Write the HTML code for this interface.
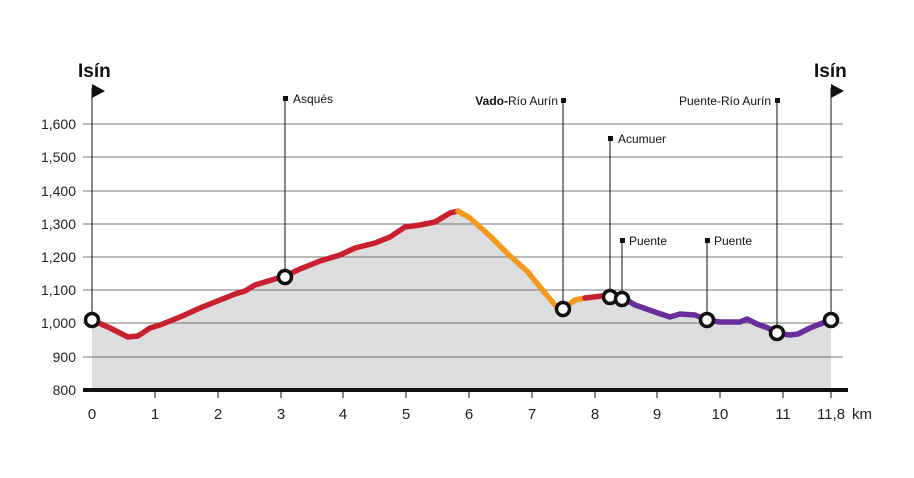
<!DOCTYPE html><html><head><meta charset="utf-8"><style>body{margin:0;background:#fff}svg{display:block;font-family:"Liberation Sans",sans-serif}</style></head><body>
<svg width="914" height="478" viewBox="0 0 914 478">
<polygon fill="#dcdddf" points="92,320 110,328 128,337 138,336 150,328 160,325 180,317 200,308 220,300 235,294 245,291 255,285 285,276 300,269 320,261 340,255 355,248 375,243 390,237 405,227 420,225 435,222 450,213 458,211 470,218 490,236 510,256 527,271 540,287 555,305 563,309 575,300 585,298 602,296 610,297 622,299 635,305 655,312 670,317 680,314 695,315 707,320 720,322 740,322 747,319 757,324 768,328 777,333 790,335 798,334 810,328 820,324 831,320 831,390 92,390"/>
<g stroke="#777" stroke-width="1"><line x1="83" x2="843" y1="124" y2="124"/><line x1="83" x2="843" y1="157" y2="157"/><line x1="83" x2="843" y1="191" y2="191"/><line x1="83" x2="843" y1="224" y2="224"/><line x1="83" x2="843" y1="257" y2="257"/><line x1="83" x2="843" y1="290" y2="290"/><line x1="83" x2="843" y1="323" y2="323"/><line x1="83" x2="843" y1="357" y2="357"/></g>
<g font-size="14" fill="#222" text-anchor="end"><text x="76" y="129">1,600</text><text x="76" y="162">1,500</text><text x="76" y="196">1,400</text><text x="76" y="229">1,300</text><text x="76" y="262">1,200</text><text x="76" y="295">1,100</text><text x="76" y="328">1,000</text><text x="76" y="362">900</text><text x="76" y="395">800</text></g>
<g stroke="#111" stroke-width="1"><line x1="92" x2="92" y1="88" y2="320"/><line x1="285" x2="285" y1="98" y2="277"/><line x1="563" x2="563" y1="100" y2="309"/><line x1="610" x2="610" y1="139" y2="297"/><line x1="622" x2="622" y1="240" y2="299"/><line x1="707" x2="707" y1="240" y2="320"/><line x1="777" x2="777" y1="100" y2="333"/><line x1="831" x2="831" y1="88" y2="320"/></g>
<polygon points="92,84 105,91 92,98" fill="#111"/><polygon points="831,84 844,91 831,98" fill="#111"/>
<g fill="#111"><rect x="283" y="96" width="5" height="5"/><rect x="561" y="98" width="5" height="5"/><rect x="608" y="136" width="5" height="5"/><rect x="620" y="238" width="5" height="5"/><rect x="705" y="238" width="5" height="5"/><rect x="775" y="98" width="5" height="5"/></g>
<g font-size="12" fill="#111"><text x="293" y="103">Asqués</text><text x="558" y="105" text-anchor="end"><tspan font-weight="bold">Vado-</tspan>Río Aurín</text><text x="618" y="143">Acumuer</text><text x="629" y="245">Puente</text><text x="714" y="245">Puente</text><text x="771" y="105" text-anchor="end">Puente-Río Aurín</text></g>
<g font-size="19" font-weight="bold" fill="#111"><text x="78" y="77">Isín</text><text x="814" y="77">Isín</text></g>
<g fill="none" stroke-width="5.5" stroke-linecap="round" stroke-linejoin="round">
<polyline stroke="#c8202e" points="92,320 110,328 128,337 138,336 150,328 160,325 180,317 200,308 220,300 235,294 245,291 255,285 285,276 300,269 320,261 340,255 355,248 375,243 390,237 405,227 420,225 435,222 450,213 458,211"/>
<polyline stroke="#f39a1e" points="458,211 470,218 490,236 510,256 527,271 540,287 555,305 563,309 575,300 585,298"/>
<polyline stroke="#c8202e" points="585,298 602,296 610,297 622,299 630,302"/>
<polyline stroke="#6a2e9c" points="630,302 635,305 655,312 670,317 680,314 695,315 707,320 720,322 740,322 747,319 757,324 768,328 777,333 790,335 798,334 810,328 820,324 831,320"/></g>
<g fill="#fff" stroke="#111" stroke-width="3.5"><circle cx="92" cy="320" r="6.5"/><circle cx="285" cy="277" r="6.5"/><circle cx="563" cy="309" r="6.5"/><circle cx="610" cy="297" r="6.5"/><circle cx="622" cy="299" r="6.5"/><circle cx="707" cy="320" r="6.5"/><circle cx="777" cy="333" r="6.5"/><circle cx="831" cy="320" r="6.5"/></g>
<line x1="83" x2="848" y1="390" y2="390" stroke="#111" stroke-width="4"/>
<g stroke="#111" stroke-width="1"><line x1="155" x2="155" y1="390" y2="398"/><line x1="218" x2="218" y1="390" y2="398"/><line x1="281" x2="281" y1="390" y2="398"/><line x1="343" x2="343" y1="390" y2="398"/><line x1="406" x2="406" y1="390" y2="398"/><line x1="469" x2="469" y1="390" y2="398"/><line x1="532" x2="532" y1="390" y2="398"/><line x1="595" x2="595" y1="390" y2="398"/><line x1="657" x2="657" y1="390" y2="398"/><line x1="720" x2="720" y1="390" y2="398"/><line x1="783" x2="783" y1="390" y2="398"/><line x1="831" x2="831" y1="390" y2="398"/></g>
<g font-size="15" fill="#222" text-anchor="middle"><text x="92" y="419">0</text><text x="155" y="419">1</text><text x="218" y="419">2</text><text x="281" y="419">3</text><text x="343" y="419">4</text><text x="406" y="419">5</text><text x="469" y="419">6</text><text x="532" y="419">7</text><text x="595" y="419">8</text><text x="657" y="419">9</text><text x="720" y="419">10</text><text x="783" y="419">11</text><text x="831" y="419">11,8</text><text x="862" y="419">km</text></g>
</svg></body></html>
